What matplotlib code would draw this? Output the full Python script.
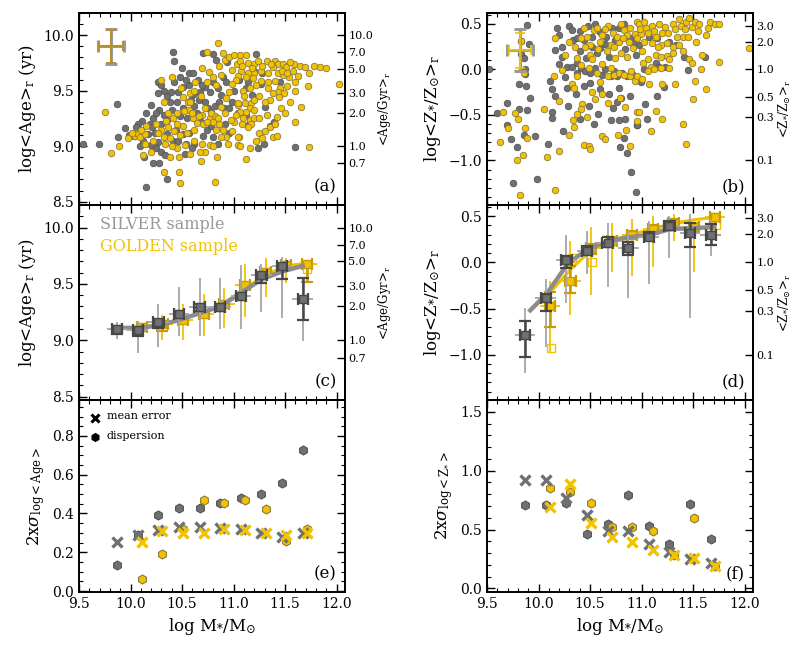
import numpy as np
import matplotlib
matplotlib.use('Agg')
from matplotlib import pyplot as plt
from matplotlib.ticker import MultipleLocator

plt.rcParams['font.family'] = ['DejaVu Serif']
plt.rcParams['mathtext.fontset'] = 'dejavuserif'

GOLD = '#f2c200'
GOLD_DK = '#c89b00'
GRAY = '#707070'
GRAY_DK = '#474747'
GRAY_LT = '#a6a6a6'

# ---- panel (a): individual galaxies, mass vs log age
gold_age = [
    (9.75, 9.31), (9.81, 8.94), (9.89, 9.00), (10.04, 9.09), (10.06, 9.12), (10.07, 9.11), (10.09, 9.08),
    (10.14, 9.02), (10.14, 9.11), (10.15, 9.18), (10.30, 9.15), (10.32, 9.08), (10.33, 9.02), (10.34, 9.23),
    (10.36, 9.17), (10.41, 9.25), (10.45, 9.30), (10.45, 9.20), (10.51, 9.18), (10.40, 9.62), (10.49, 9.52),
    (10.51, 9.44), (10.56, 9.40), (10.57, 9.33), (10.61, 9.25), (10.64, 9.21), (10.69, 9.28), (10.72, 9.34),
    (10.77, 9.25), (10.80, 9.22), (10.82, 9.27), (10.85, 9.25), (10.86, 9.20), (10.83, 9.15), (10.90, 9.15),
    (10.93, 9.08), (10.95, 9.02), (10.98, 9.14), (10.77, 9.01), (10.72, 8.95), (10.67, 8.95), (10.69, 9.02),
    (10.58, 8.93), (10.53, 9.01), (10.45, 8.98), (10.38, 8.90), (10.47, 8.90), (10.32, 8.77), (10.47, 8.77),
    (10.48, 8.67), (10.84, 8.90), (10.68, 8.87), (10.82, 8.68), (11.00, 9.22), (11.04, 9.37), (11.05, 9.08),
    (11.04, 9.01), (10.85, 9.93), (10.74, 9.85), (10.69, 9.70), (10.76, 9.67), (10.63, 9.58), (10.83, 9.55),
    (10.88, 9.64), (10.98, 9.69), (11.03, 9.74), (10.96, 9.49), (10.93, 9.43), (11.06, 9.82), (11.12, 9.82),
    (11.06, 9.77), (11.14, 9.75), (11.20, 9.74), (11.24, 9.77), (11.32, 9.77), (11.40, 9.77), (11.43, 9.74),
    (11.48, 9.74), (11.51, 9.71), (11.59, 9.74), (11.64, 9.72), (11.69, 9.71), (11.73, 9.66), (11.62, 9.63),
    (11.54, 9.62), (11.48, 9.64), (11.38, 9.71), (11.33, 9.66), (11.27, 9.68), (11.20, 9.66), (11.14, 9.66),
    (11.07, 9.68), (11.04, 9.63), (11.12, 9.62), (11.19, 9.61), (11.27, 9.59), (11.33, 9.58), (11.40, 9.59),
    (11.43, 9.66), (11.22, 9.55), (11.16, 9.52), (11.09, 9.50), (11.33, 9.52), (11.45, 9.52), (11.43, 9.49),
    (11.49, 9.48), (11.35, 9.42), (12.02, 9.56), (11.04, 9.39), (11.11, 9.39), (11.17, 9.39), (11.20, 9.42),
    (11.16, 9.34), (11.20, 9.33), (11.12, 9.31), (11.06, 9.31), (11.09, 9.25), (11.16, 9.24), (11.20, 9.25),
    (11.25, 9.25), (11.32, 9.28), (11.46, 9.34), (11.42, 9.26), (11.17, 9.20), (11.14, 9.17), (11.25, 9.12),
    (11.30, 9.14), (11.35, 9.17), (11.04, 9.08), (11.28, 9.07), (11.38, 9.08), (11.42, 9.09), (11.06, 9.00),
    (11.16, 8.98), (11.12, 8.88), (11.73, 8.99), (10.60, 9.30), (10.66, 9.27), (10.70, 9.20), (10.74, 9.22),
    (10.78, 9.30), (10.62, 9.15), (10.55, 9.12), (10.48, 9.10), (10.42, 9.14), (10.38, 9.07), (10.27, 9.12),
    (10.22, 9.05), (10.25, 9.20), (10.58, 9.48), (10.62, 9.50), (10.68, 9.45), (10.74, 9.58), (10.80, 9.62),
    (10.86, 9.72), (10.92, 9.78), (10.96, 9.80), (11.00, 9.82), (10.90, 9.84), (11.02, 9.60), (10.98, 9.56),
    (11.08, 9.72), (11.18, 9.70), (11.28, 9.72), (11.36, 9.74), (11.55, 9.76), (11.47, 9.68), (11.52, 9.66),
    (11.58, 9.68), (11.60, 9.58), (11.52, 9.54), (11.38, 9.48), (11.44, 9.44), (11.25, 9.45), (11.30, 9.40),
    (11.10, 9.45), (11.08, 9.20), (11.02, 9.28), (10.97, 9.24), (10.92, 9.30), (10.88, 9.35), (10.58, 9.40),
    (10.52, 9.32), (10.36, 9.30), (10.32, 9.40), (10.30, 9.60), (10.88, 9.08), (10.80, 9.00), (10.62, 9.05),
    (10.40, 9.00), (11.22, 9.05), (11.40, 9.20), (11.50, 9.30), (11.55, 9.40), (11.60, 9.22), (11.65, 9.35),
    (11.72, 9.54), (11.78, 9.72), (11.84, 9.71), (11.90, 9.70), (11.60, 9.50), (9.98, 9.07), (10.01, 9.12),
    (10.10, 9.15), (10.20, 8.95), (10.12, 8.92),
]
silver_age = [
    (9.54, 9.02), (9.69, 9.02), (9.87, 9.38), (9.88, 9.08), (9.95, 9.16), (9.99, 9.10), (10.41, 9.85),
    (10.42, 9.77), (10.70, 9.84), (10.80, 9.83), (10.83, 9.78), (10.94, 9.76), (10.57, 9.66), (10.61, 9.66),
    (10.27, 9.58), (10.30, 9.55), (10.32, 9.50), (10.39, 9.49), (10.46, 9.49), (10.51, 9.53), (10.57, 9.55),
    (10.62, 9.47), (10.67, 9.49), (10.72, 9.53), (10.77, 9.49), (10.80, 9.58), (10.85, 9.52), (10.90, 9.62),
    (10.93, 9.58), (10.20, 9.37), (10.28, 9.33), (10.32, 9.28), (10.35, 9.24), (10.38, 9.40), (10.45, 9.40),
    (10.51, 9.34), (10.59, 9.42), (10.62, 9.36), (10.66, 9.42), (10.72, 9.40), (10.75, 9.34), (10.78, 9.31),
    (10.82, 9.36), (10.86, 9.40), (10.91, 9.34), (10.96, 9.34), (10.22, 9.25), (10.19, 9.20), (10.11, 9.23),
    (10.07, 9.20), (10.21, 9.17), (10.24, 9.12), (10.17, 9.11), (10.03, 9.09), (10.12, 9.05), (10.20, 9.01),
    (10.27, 9.04), (10.30, 8.95), (10.33, 8.92), (10.41, 9.05), (10.51, 9.11), (10.57, 9.12), (10.54, 9.02),
    (10.62, 9.02), (10.70, 9.09), (10.74, 9.15), (10.80, 9.08), (10.85, 9.02), (10.53, 8.93), (10.13, 8.90),
    (10.22, 8.85), (10.28, 8.85), (10.35, 8.70), (10.15, 8.63), (10.35, 9.11), (11.22, 9.83), (11.20, 9.68),
    (11.28, 9.66), (11.14, 9.58), (11.12, 9.52), (11.27, 9.56), (11.04, 9.30), (11.12, 9.28), (11.14, 9.19),
    (11.35, 9.18), (11.39, 9.22), (11.29, 9.02), (11.24, 8.98), (11.60, 8.99), (10.40, 9.33), (10.48, 9.27),
    (10.55, 9.25), (10.64, 9.30), (10.68, 9.22), (10.44, 9.15), (10.30, 9.20), (10.25, 9.30), (10.35, 9.45),
    (10.42, 9.58), (10.48, 9.62), (10.54, 9.60), (10.65, 9.60), (10.88, 9.46), (10.98, 9.40), (11.00, 9.50),
    (10.92, 9.20), (10.96, 9.12), (10.15, 9.30), (10.05, 9.17), (10.09, 9.00), (10.25, 8.98), (10.46, 9.05),
    (10.60, 8.98), (10.78, 9.18), (10.69, 9.55), (11.05, 9.60), (11.18, 9.46), (11.30, 9.35), (11.45, 9.58),
    (10.27, 9.48), (10.50, 9.70),
]

# ---- panel (b): individual galaxies, mass vs log metallicity
gold_met = [
    (9.63, -0.80), (9.66, -0.47), (9.70, -0.64), (9.79, -1.00), (9.77, -0.48), (9.80, -0.55), (9.82, -1.38),
    (9.83, 0.31), (9.85, -0.94), (9.86, -0.04), (9.87, -0.64), (9.89, -0.75), (10.16, 0.34), (10.35, 0.25),
    (10.41, 0.34), (10.50, 0.27), (10.54, 0.43), (10.57, 0.46), (10.62, 0.38), (10.67, 0.48), (10.70, 0.27),
    (10.73, 0.25), (10.78, 0.30), (10.80, 0.50), (10.83, 0.43), (10.86, 0.38), (10.89, 0.46), (10.94, 0.39),
    (10.96, 0.52), (10.45, 0.25), (10.50, 0.16), (10.52, 0.11), (10.49, 0.02), (10.41, 0.05), (10.37, 0.12),
    (10.15, -0.07), (10.23, -0.01), (10.32, -0.16), (10.34, -0.20), (10.37, -0.07), (10.57, -0.04),
    (10.60, -0.14), (10.67, -0.07), (10.73, -0.06), (10.78, -0.04), (10.83, -0.06), (10.89, -0.07),
    (10.94, -0.13), (10.52, -0.25), (10.55, -0.32), (10.62, -0.27), (10.67, -0.37), (10.79, -0.31),
    (10.84, -0.41), (10.96, -0.47), (10.42, -0.38), (10.41, -0.43), (10.37, -0.49), (10.47, -0.52),
    (10.33, -0.56), (10.34, -0.63), (10.20, -0.35), (10.05, -0.43), (10.30, -0.72), (10.62, -0.73),
    (10.64, -0.77), (10.77, -0.72), (10.85, -0.67), (10.89, -0.84), (10.44, -0.83), (10.49, -0.84),
    (10.50, -0.88), (10.20, -0.90), (10.08, -0.96), (10.16, -1.33), (10.97, 0.50), (11.04, 0.45),
    (11.10, 0.48), (11.17, 0.50), (11.23, 0.47), (11.30, 0.50), (11.36, 0.55), (11.43, 0.52), (11.49, 0.47),
    (11.46, 0.57), (10.99, 0.39), (10.96, 0.34), (11.02, 0.30), (11.10, 0.29), (11.19, 0.27), (11.25, 0.29),
    (11.30, 0.25), (11.36, 0.27), (11.40, 0.36), (11.45, 0.36), (11.53, 0.30), (11.64, 0.45), (11.66, 0.52),
    (11.71, 0.50), (11.75, 0.50), (12.04, 0.24), (11.14, 0.16), (11.19, 0.14), (11.25, 0.15), (11.27, 0.11),
    (11.06, 0.11), (11.09, 0.03), (11.06, -0.02), (11.12, 0.00), (11.19, 0.02), (11.27, 0.02), (11.01, 0.07),
    (11.46, 0.11), (11.49, 0.07), (11.59, 0.16), (11.75, 0.08), (11.58, 0.00), (10.96, -0.07), (11.07, -0.16),
    (11.20, -0.16), (11.32, -0.16), (11.52, -0.13), (11.62, -0.22), (11.50, -0.32), (10.97, -0.47),
    (11.14, -0.46), (11.20, -0.55), (11.09, -0.68), (11.40, -0.60), (11.43, -0.82), (10.96, -0.57),
    (10.60, 0.30), (10.64, 0.44), (10.72, 0.40), (10.76, 0.36), (10.82, 0.34), (10.88, 0.30), (10.92, 0.24),
    (10.98, 0.44), (11.02, 0.52), (11.06, 0.40), (11.12, 0.42), (11.14, 0.36), (11.20, 0.40), (11.26, 0.40),
    (11.32, 0.44), (11.38, 0.48), (11.42, 0.44), (11.52, 0.52), (11.56, 0.50), (11.34, 0.36), (11.00, 0.20),
    (10.86, 0.14), (10.80, 0.18), (10.74, 0.12), (10.66, 0.20), (10.58, 0.22), (10.47, 0.36), (10.44, 0.46),
    (10.30, 0.30), (10.26, 0.16), (10.62, 0.06), (10.70, 0.02), (11.16, 0.25), (11.30, 0.18), (11.40, 0.20),
    (10.90, -0.02), (11.00, -0.10), (11.55, 0.42), (11.62, 0.38),
]
silver_met = [
    (9.52, 0.00), (9.60, -0.48), (9.69, -0.37), (9.69, -0.61), (9.73, -0.76), (9.75, -1.25), (9.79, -0.85),
    (9.81, -0.16), (9.81, -0.44), (9.83, 0.17), (9.83, 0.31), (9.86, 0.13), (9.87, 0.00), (9.87, -0.05),
    (9.88, -0.18), (9.89, 0.49), (9.91, 0.28), (9.92, -0.31), (9.89, -0.45), (9.86, -0.72), (10.30, 0.48),
    (10.32, 0.43), (10.16, 0.21), (10.23, 0.25), (10.23, 0.14), (10.33, 0.32), (10.37, 0.34), (10.44, 0.32),
    (10.55, 0.50), (10.60, 0.41), (10.65, 0.36), (10.71, 0.46), (10.78, 0.45), (10.83, 0.50), (10.89, 0.34),
    (10.92, 0.29), (10.52, 0.25), (10.57, 0.18), (10.60, 0.23), (10.28, 0.03), (10.32, 0.03), (10.37, 0.07),
    (10.41, 0.02), (10.37, -0.04), (10.45, -0.02), (10.50, -0.04), (10.62, -0.06), (10.70, -0.07),
    (10.73, -0.02), (10.76, -0.07), (10.81, -0.04), (10.86, -0.07), (10.92, -0.06), (10.11, -0.13),
    (10.13, -0.22), (10.16, -0.29), (10.44, -0.18), (10.36, -0.27), (10.60, -0.22), (10.68, -0.27),
    (10.78, -0.20), (10.76, -0.36), (10.80, -0.31), (10.89, -0.29), (10.29, -0.40), (10.49, -0.40),
    (10.58, -0.49), (10.70, -0.56), (10.78, -0.56), (10.84, -0.54), (10.96, -0.61), (10.13, -0.47),
    (10.13, -0.53), (10.24, -0.68), (9.97, -0.73), (10.09, -0.82), (10.83, -0.75), (10.79, -0.85),
    (10.86, -0.92), (10.90, -1.13), (9.99, -1.20), (10.95, -1.35), (10.97, 0.27), (11.07, 0.36), (11.15, 0.34),
    (11.27, 0.30), (11.33, 0.27), (11.41, 0.14), (11.61, 0.14), (11.14, 0.07), (11.17, 0.03), (11.23, 0.03),
    (11.45, -0.01), (10.99, -0.14), (11.15, -0.29), (11.22, -0.19), (11.03, -0.38), (11.05, -0.54),
    (10.96, -0.61), (10.40, 0.20), (10.46, 0.12), (10.52, 0.36), (10.64, 0.28), (10.68, 0.14), (10.74, 0.32),
    (10.84, 0.22), (10.20, 0.06), (10.26, -0.08), (10.55, 0.02), (10.64, 0.00), (10.40, 0.42), (10.48, 0.48),
    (10.95, 0.16), (11.02, 0.00), (10.20, 0.38), (10.28, -0.20), (10.50, -0.15), (10.54, -0.60),
    (10.40, -0.55), (10.72, -0.42), (10.18, 0.46),
]

# typical individual errors (x, y, xerr, yerr)
typ_err_age = {'silver': (9.81, 9.90, 0.125, 0.16), 'gold': (9.81, 9.90, 0.12, 0.15)}
typ_err_met = {'silver': (9.82, 0.21, 0.125, 0.23), 'gold': (9.82, 0.21, 0.11, 0.195)}

# ---- binned relations (c), (d)
mass_silver = [9.87, 10.07, 10.27, 10.47, 10.67, 10.87, 11.07, 11.27, 11.47, 11.67]
mass_gold = [10.11, 10.31, 10.51, 10.71, 10.91, 11.11, 11.31, 11.51, 11.71]

age_silver = [9.10, 9.09, 9.16, 9.23, 9.295, 9.295, 9.39, 9.575, 9.655, 9.37]
age_silver_disp_lo = [9.01, 8.89, 8.94, 9.04, 9.04, 9.10, 9.10, 9.25, 9.20, 8.99]
age_silver_disp_hi = [9.16, 9.17, 9.32, 9.47, 9.55, 9.55, 9.67, 9.68, 9.74, 9.55]
age_silver_err_lo = [9.055, 9.04, 9.11, 9.20, 9.26, 9.26, 9.36, 9.51, 9.54, 9.18]
age_silver_err_hi = [9.13, 9.11, 9.18, 9.26, 9.32, 9.32, 9.42, 9.60, 9.68, 9.55]
age_gold = [9.12, 9.14, 9.18, 9.23, 9.32, 9.49, 9.605, 9.67, 9.675]
age_gold_disp_lo = [9.03, 9.00, 9.00, 9.04, 9.11, 9.21, 9.38, 9.51, 9.55]
age_gold_disp_hi = [9.14, 9.22, 9.32, 9.41, 9.46, 9.68, 9.73, 9.73, 9.71]
age_gold_err_lo = [9.10, 9.08, 9.16, 9.21, 9.30, 9.46, 9.58, 9.64, 9.52]
age_gold_err_hi = [9.14, 9.17, 9.19, 9.25, 9.34, 9.51, 9.63, 9.69, 9.69]
age_gold_open = [(11.71, 9.63)]
age_line_silver = [9.11, 9.11, 9.13, 9.18, 9.24, 9.30, 9.42, 9.54, 9.61, 9.66]
age_line_gold_x = [10.11, 10.31, 10.51, 10.71, 10.91, 11.11, 11.31, 11.51, 11.75]
age_line_gold = [9.12, 9.145, 9.19, 9.25, 9.33, 9.46, 9.58, 9.66, 9.69]

met_silver = [-0.79, -0.39, 0.02, 0.12, 0.21, 0.15, 0.27, 0.39, 0.32, 0.30]
met_silver_disp_lo = [-1.20, -0.92, -0.44, -0.13, -0.27, -0.39, -0.24, 0.05, -0.60, 0.07]
met_silver_disp_hi = [-0.49, -0.18, 0.29, 0.34, 0.43, 0.34, 0.45, 0.50, 0.52, 0.47]
met_silver_err_lo = [-1.02, -0.53, -0.06, 0.095, 0.17, 0.08, 0.25, 0.35, 0.17, 0.19]
met_silver_err_hi = [-0.63, -0.34, 0.07, 0.18, 0.27, 0.22, 0.33, 0.45, 0.42, 0.41]
met_gold = [-0.47, -0.20, 0.16, 0.23, 0.29, 0.36, 0.43, 0.38, 0.49]
met_gold_disp_lo = [-0.97, -0.57, -0.35, -0.10, -0.15, -0.05, 0.23, -0.10, 0.30]
met_gold_disp_hi = [-0.20, 0.23, 0.38, 0.43, 0.47, 0.50, 0.52, 0.41, 0.52]
met_gold_err_lo = [-0.70, -0.33, 0.09, 0.19, 0.26, 0.32, 0.40, 0.33, 0.29]
met_gold_err_hi = [-0.32, -0.04, 0.20, 0.27, 0.34, 0.40, 0.47, 0.43, 0.52]
met_gold_open = [(10.12, -0.93), (10.32, 0.05), (10.52, 0.00), (11.72, 0.40)]
met_line_silver_x = [9.92, 10.08, 10.28, 10.47, 10.68, 10.88, 11.08, 11.28, 11.48, 11.70]
met_line_silver = [-0.52, -0.34, -0.02, 0.14, 0.23, 0.27, 0.30, 0.36, 0.37, 0.38]
met_line_gold_x = [10.07, 10.31, 10.50, 10.68, 10.90, 11.10, 11.30, 11.50, 11.75]
met_line_gold = [-0.38, -0.08, 0.12, 0.23, 0.30, 0.36, 0.42, 0.46, 0.49]

# ---- (e), (f): 2 x sigma
age_mean_err_silver = [0.254, 0.29, 0.316, 0.33, 0.33, 0.325, 0.32, 0.30, 0.28, 0.30]
age_disp_silver = [0.135, 0.29, 0.393, 0.43, 0.43, 0.452, 0.48, 0.50, 0.557, 0.727]
age_mean_err_gold = [0.254, 0.31, 0.30, 0.30, 0.32, 0.316, 0.30, 0.29, 0.30]
age_disp_gold = [0.062, 0.193, 0.32, 0.47, 0.452, 0.47, 0.425, 0.257, 0.32]
met_mean_err_silver = [0.917, 0.925, 0.766, 0.62, 0.485, 0.49, 0.38, 0.31, 0.25, 0.215]
met_disp_silver = [0.705, 0.71, 0.725, 0.46, 0.545, 0.79, 0.53, 0.375, 0.72, 0.42]
met_mean_err_gold = [0.69, 0.89, 0.555, 0.435, 0.395, 0.325, 0.285, 0.255, 0.19]
met_disp_gold = [0.857, 0.815, 0.725, 0.52, 0.525, 0.49, 0.285, 0.595, 0.19]

age_right_ticks = [10.0, 7.0, 5.0, 3.0, 2.0, 1.0, 0.7]
met_right_ticks = [3.0, 2.0, 1.0, 0.5, 0.3, 0.1]

XLIM = (9.5, 12.08)
AGE_LIM = (8.47, 10.2)
MET_LIM = (-1.49, 0.62)

fig = plt.figure(figsize=(7.93, 6.6), dpi=100)
W = 0.3354
cols = [0.0996, 0.6141]
rows = [(0.6894, 0.2909), (0.3939, 0.2955), (0.1030, 0.2909)]
axs = [[fig.add_axes([c, r[0], W, r[1]]) for c in cols] for r in rows]


def style(ax, ymaj, ymin, right=True, xlabels=False):
    ax.set_xlim(*XLIM)
    ax.xaxis.set_major_locator(MultipleLocator(0.5))
    ax.xaxis.set_minor_locator(MultipleLocator(0.1))
    ax.yaxis.set_major_locator(MultipleLocator(ymaj))
    ax.yaxis.set_minor_locator(MultipleLocator(ymin))
    ax.tick_params(which='both', direction='in', top=True, right=right, labelsize=10)
    ax.tick_params(which='major', length=6, width=1.0)
    ax.tick_params(which='minor', length=3, width=0.8)
    if not xlabels:
        ax.tick_params(labelbottom=False)
    for s in ax.spines.values():
        s.set_linewidth(1.4)


def twin(ax, lim, vals, offset, label):
    t = ax.twinx()
    t.set_ylim(*lim)
    t.set_yticks([np.log10(v) + offset for v in vals])
    t.set_yticklabels(['%.1f' % v for v in vals], fontsize=8)
    t.tick_params(direction='in', length=6, width=1.0, pad=2.5)
    t.set_ylabel(label, fontsize=8.5, labelpad=2)
    for s in t.spines.values():
        s.set_linewidth(1.4)
    return t


def scatter_pts(ax, pts, face, edge):
    p = np.array(pts)
    ax.scatter(p[:, 0], p[:, 1], s=22, c=face, edgecolors=edge, linewidths=0.6, zorder=3)


# (a)
ax = axs[0][0]
scatter_pts(ax, silver_age, GRAY, '#555555')
scatter_pts(ax, gold_age, GOLD, '#8a7a40')
x, y, xe, ye = typ_err_age['silver']
ax.errorbar(x, y, xerr=xe, yerr=ye, fmt='none', ecolor='#9a9a9a', elinewidth=2.2, capsize=4, capthick=2.2, zorder=4)
x, y, xe, ye = typ_err_age['gold']
ax.errorbar(x, y, xerr=xe, yerr=ye, fmt='none', ecolor='#b8902a', elinewidth=1.4, capsize=3.5, capthick=1.4, zorder=5)
ax.set_ylim(*AGE_LIM)
style(ax, 0.5, 0.1, right=False)
ax.set_ylabel(r'log<Age>$_{\rm r}$ (yr)', fontsize=12)
twin(ax, AGE_LIM, age_right_ticks, 9.0, r'<Age/Gyr>$_{\rm r}$')
ax.text(0.97, 0.05, '(a)', transform=ax.transAxes, ha='right', va='bottom', fontsize=12)

# (b)
ax = axs[0][1]
scatter_pts(ax, silver_met, GRAY, '#555555')
scatter_pts(ax, gold_met, GOLD, '#8a7a40')
x, y, xe, ye = typ_err_met['silver']
ax.errorbar(x, y, xerr=xe, yerr=ye, fmt='none', ecolor='#9a9a9a', elinewidth=2.2, capsize=4, capthick=2.2, zorder=4)
x, y, xe, ye = typ_err_met['gold']
ax.errorbar(x, y, xerr=xe, yerr=ye, fmt='none', ecolor=GOLD, elinewidth=1.2, capsize=3.5, capthick=1.2, zorder=5)
ax.set_ylim(*MET_LIM)
style(ax, 0.5, 0.1, right=False)
ax.set_ylabel(r'log<Z$_{*}$/Z$_{\odot}$>$_{\rm r}$', fontsize=12)
twin(ax, MET_LIM, met_right_ticks, 0.0, r'<Z$_{*}$/Z$_{\odot}$>$_{\rm r}$')
ax.text(0.97, 0.05, '(b)', transform=ax.transAxes, ha='right', va='bottom', fontsize=12)


def binned(ax, xs, ys, dlo, dhi, elo, ehi, face, edge, thin_c, thick_c, z):
    xs = np.array(xs)
    ys = np.array(ys)
    ax.errorbar(xs, ys, xerr=0.1, yerr=[ys - np.array(dlo), np.array(dhi) - ys], fmt='none',
                ecolor=thin_c, elinewidth=1.3, capsize=0, zorder=z)
    ax.errorbar(xs, ys, xerr=0.05, yerr=[ys - np.array(elo), np.array(ehi) - ys], fmt='none',
                ecolor=thick_c, elinewidth=1.8, capsize=4, capthick=1.6, zorder=z + 0.1)
    ax.plot(xs, ys, 's', ms=5.5, mfc=face, mec=edge, mew=1.0, zorder=z + 0.3)


# (c)
ax = axs[1][0]
ax.plot(age_line_gold_x, age_line_gold, color=GOLD, lw=2.2, zorder=2)
binned(ax, mass_gold, age_gold, age_gold_disp_lo, age_gold_disp_hi, age_gold_err_lo, age_gold_err_hi,
       GOLD, GOLD_DK, GOLD, GOLD_DK, 3)
for px, py in age_gold_open:
    ax.plot(px, py, 's', ms=5.5, mfc='none', mec=GOLD, mew=1.0, zorder=3)
ax.plot(mass_silver, age_line_silver, color='#8c8c8c', lw=3.2, zorder=4)
binned(ax, mass_silver, age_silver, age_silver_disp_lo, age_silver_disp_hi, age_silver_err_lo, age_silver_err_hi,
       GRAY, GRAY_DK, GRAY_LT, GRAY_DK, 5)
ax.set_ylim(*AGE_LIM)
style(ax, 0.5, 0.1, right=False)
ax.set_ylabel(r'log<Age>$_{\rm r}$ (yr)', fontsize=12)
twin(ax, AGE_LIM, age_right_ticks, 9.0, r'<Age/Gyr>$_{\rm r}$')
ax.text(0.08, 0.90, 'SILVER sample', color='#999999', transform=ax.transAxes, ha='left', va='center', fontsize=11.5)
ax.text(0.08, 0.785, 'GOLDEN sample', color=GOLD, transform=ax.transAxes, ha='left', va='center', fontsize=11.5)
ax.text(0.97, 0.05, '(c)', transform=ax.transAxes, ha='right', va='bottom', fontsize=12)

# (d)
ax = axs[1][1]
ax.plot(met_line_gold_x, met_line_gold, color=GOLD, lw=2.2, zorder=2)
binned(ax, mass_gold, met_gold, met_gold_disp_lo, met_gold_disp_hi, met_gold_err_lo, met_gold_err_hi,
       GOLD, GOLD_DK, GOLD, GOLD_DK, 3)
for px, py in met_gold_open:
    ax.plot(px, py, 's', ms=5.5, mfc='none', mec=GOLD, mew=1.0, zorder=3)
ax.plot(met_line_silver_x, met_line_silver, color='#8c8c8c', lw=3.2, zorder=4)
binned(ax, mass_silver, met_silver, met_silver_disp_lo, met_silver_disp_hi, met_silver_err_lo, met_silver_err_hi,
       GRAY, GRAY_DK, GRAY_LT, GRAY_DK, 5)
ax.set_ylim(*MET_LIM)
style(ax, 0.5, 0.1, right=False)
ax.set_ylabel(r'log<Z$_{*}$/Z$_{\odot}$>$_{\rm r}$', fontsize=12)
twin(ax, MET_LIM, met_right_ticks, 0.0, r'<Z$_{*}$/Z$_{\odot}$>$_{\rm r}$')
ax.text(0.97, 0.05, '(d)', transform=ax.transAxes, ha='right', va='bottom', fontsize=12)


def sigma_panel(ax, me_s, d_s, me_g, d_g):
    ax.plot(mass_silver, d_s, 'h', ms=6.5, mfc=GRAY, mec='#555555', mew=0.8, zorder=3)
    ax.plot(mass_gold, d_g, 'h', ms=6.5, mfc=GOLD, mec='#8a7a40', mew=0.8, zorder=3)
    ax.plot(mass_silver, me_s, 'x', ms=6.5, mec=GRAY, mew=2.4, zorder=4)
    ax.plot(mass_gold, me_g, 'x', ms=6.5, mec=GOLD, mew=2.4, zorder=4)


# (e)
ax = axs[2][0]
sigma_panel(ax, age_mean_err_silver, age_disp_silver, age_mean_err_gold, age_disp_gold)
ax.set_ylim(-0.005, 0.985)
style(ax, 0.2, 0.05, right=True, xlabels=True)
ax.set_ylabel(r'2x$\sigma_{\rm log<Age>}$', fontsize=12)
ax.set_xlabel(r'log M$_{*}$/M$_{\odot}$', fontsize=12)
ax.plot([0.06], [0.908], 'x', ms=5.5, mec='black', mew=2.2, transform=ax.transAxes)
ax.plot([0.06], [0.81], 'h', ms=5.5, mfc='black', mec='black', transform=ax.transAxes)
ax.text(0.105, 0.915, 'mean error', transform=ax.transAxes, ha='left', va='center', fontsize=8)
ax.text(0.105, 0.815, 'dispersion', transform=ax.transAxes, ha='left', va='center', fontsize=8)
ax.text(0.97, 0.05, '(e)', transform=ax.transAxes, ha='right', va='bottom', fontsize=12)

# (f)
ax = axs[2][1]
sigma_panel(ax, met_mean_err_silver, met_disp_silver, met_mean_err_gold, met_disp_gold)
ax.set_ylim(-0.03, 1.6)
style(ax, 0.5, 0.1, right=True, xlabels=True)
ax.set_ylabel(r'2x$\sigma_{\rm log<Z_{*}>}$', fontsize=12)
ax.set_xlabel(r'log M$_{*}$/M$_{\odot}$', fontsize=12)
ax.text(0.97, 0.05, '(f)', transform=ax.transAxes, ha='right', va='bottom', fontsize=12)

fig.savefig('out.png', dpi=100)
